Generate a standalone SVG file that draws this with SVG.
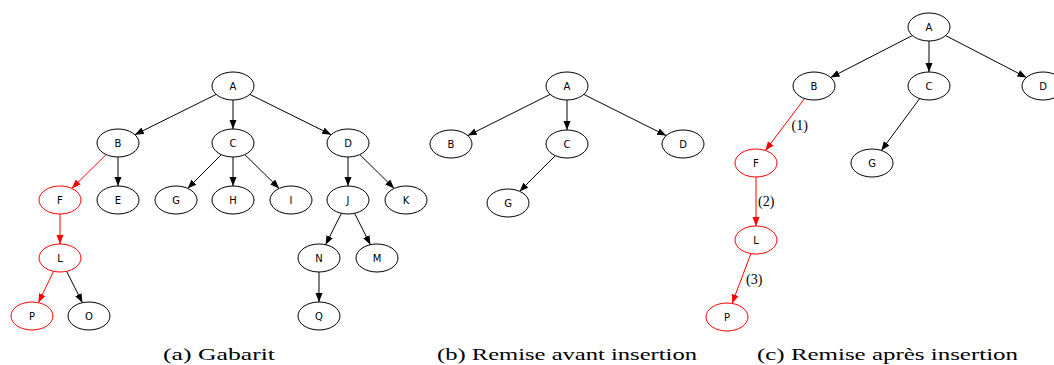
<svg xmlns="http://www.w3.org/2000/svg" width="1054" height="365" viewBox="0 0 1054 365">
  <style>
    .n ellipse { fill: #ffffff; stroke: #000000; stroke-width: 1; }
    .n.hl ellipse { stroke: #ff0000; }
    .n text { font-family: "DejaVu Sans", sans-serif; font-size: 10px; text-anchor: middle; fill: #000000; }
    .e { stroke: #000000; stroke-width: 1; fill: none; marker-end: url(#ah); }
    .e.hl { stroke: #ff0000; marker-end: url(#ahr); }
    .lbl { font-family: "Liberation Serif", serif; font-size: 14px; fill: #000000; }
    .cap { font-family: "Liberation Serif", serif; font-size: 17px; fill: #000000; }
  </style>
  <defs>
    <marker id="ah" markerUnits="userSpaceOnUse" markerWidth="10" markerHeight="8" refX="9" refY="3.5" orient="auto">
      <path d="M0,0 L9,3.5 L0,7 z" fill="#000000"/>
    </marker>
    <marker id="ahr" markerUnits="userSpaceOnUse" markerWidth="10" markerHeight="8" refX="9" refY="3.5" orient="auto">
      <path d="M0,0 L9,3.5 L0,7 z" fill="#ff0000"/>
    </marker>
  </defs>
  <rect width="1054" height="365" fill="#ffffff"/>

  <!-- (a) template tree: connectors -->
  <g id="edges-a">
    <line class="e" x1="216.2" y1="94.4" x2="134.9" y2="134.7"/>
    <line class="e" x1="233" y1="100" x2="233" y2="129"/>
    <line class="e" x1="249.8" y1="94.4" x2="331.2" y2="134.7"/>
    <line class="e hl" x1="106.2" y1="154.6" x2="71.8" y2="188.4"/>
    <line class="e" x1="118" y1="157" x2="118" y2="186"/>
    <line class="e" x1="221.4" y1="154.6" x2="187.6" y2="188.4"/>
    <line class="e" x1="233" y1="157" x2="233" y2="186"/>
    <line class="e" x1="244.8" y1="154.6" x2="279.2" y2="188.4"/>
    <line class="e" x1="348" y1="157" x2="348" y2="186"/>
    <line class="e" x1="359.8" y1="154.6" x2="394.2" y2="188.4"/>
    <line class="e hl" x1="60" y1="214" x2="60" y2="244"/>
    <line class="e" x1="341.4" y1="213.3" x2="325.6" y2="244.7"/>
    <line class="e" x1="354.6" y1="213.3" x2="370.4" y2="244.7"/>
    <line class="e hl" x1="53.6" y1="271.3" x2="38.4" y2="302.7"/>
    <line class="e" x1="66.6" y1="271.3" x2="82.4" y2="302.7"/>
    <line class="e" x1="319" y1="272" x2="319" y2="302"/>
  </g>
  <!-- (a) template tree: nodes -->
  <g id="a-A" class="n"><ellipse cx="233" cy="86" rx="21" ry="14"/><text x="233" y="89.5">A</text></g>
  <g id="a-B" class="n"><ellipse cx="118" cy="143" rx="21" ry="14"/><text x="118" y="146.5">B</text></g>
  <g id="a-C" class="n"><ellipse cx="233" cy="143" rx="21" ry="14"/><text x="233" y="146.5">C</text></g>
  <g id="a-D" class="n"><ellipse cx="348" cy="143" rx="21" ry="14"/><text x="348" y="146.5">D</text></g>
  <g id="a-F" class="n hl"><ellipse cx="60" cy="200" rx="21" ry="14"/><text x="60" y="203.5">F</text></g>
  <g id="a-E" class="n"><ellipse cx="118" cy="200" rx="21" ry="14"/><text x="118" y="203.5">E</text></g>
  <g id="a-G" class="n"><ellipse cx="176" cy="200" rx="21" ry="14"/><text x="176" y="203.5">G</text></g>
  <g id="a-H" class="n"><ellipse cx="233" cy="200" rx="21" ry="14"/><text x="233" y="203.5">H</text></g>
  <g id="a-I" class="n"><ellipse cx="291" cy="200" rx="21" ry="14"/><text x="291" y="203.5">I</text></g>
  <g id="a-J" class="n"><ellipse cx="348" cy="200" rx="21" ry="14"/><text x="348" y="203.5">J</text></g>
  <g id="a-K" class="n"><ellipse cx="406" cy="200" rx="21" ry="14"/><text x="406" y="203.5">K</text></g>
  <g id="a-L" class="n hl"><ellipse cx="60" cy="258" rx="21" ry="14"/><text x="60" y="261.5">L</text></g>
  <g id="a-N" class="n"><ellipse cx="319" cy="258" rx="21" ry="14"/><text x="319" y="261.5">N</text></g>
  <g id="a-M" class="n"><ellipse cx="377" cy="258" rx="21" ry="14"/><text x="377" y="261.5">M</text></g>
  <g id="a-P" class="n hl"><ellipse cx="32" cy="316" rx="21" ry="14"/><text x="32" y="319.5">P</text></g>
  <g id="a-O" class="n"><ellipse cx="89" cy="316" rx="21" ry="14"/><text x="89" y="319.5">O</text></g>
  <g id="a-Q" class="n"><ellipse cx="319" cy="316" rx="21" ry="14"/><text x="319" y="319.5">Q</text></g>

  <!-- (b) before insertion: connectors -->
  <g id="edges-b">
    <line class="e" x1="550.2" y1="94.4" x2="467.8" y2="135.6"/>
    <line class="e" x1="567" y1="100" x2="567" y2="130"/>
    <line class="e" x1="583.8" y1="94.4" x2="666.2" y2="135.6"/>
    <line class="e" x1="555.4" y1="155.6" x2="519.6" y2="191.4"/>
  </g>
  <!-- (b) nodes -->
  <g id="b-A" class="n"><ellipse cx="567" cy="86" rx="21" ry="14"/><text x="567" y="89.5">A</text></g>
  <g id="b-B" class="n"><ellipse cx="451" cy="144" rx="21" ry="14"/><text x="451" y="147.5">B</text></g>
  <g id="b-C" class="n"><ellipse cx="567" cy="144" rx="21" ry="14"/><text x="567" y="147.5">C</text></g>
  <g id="b-D" class="n"><ellipse cx="683" cy="144" rx="21" ry="14"/><text x="683" y="147.5">D</text></g>
  <g id="b-G" class="n"><ellipse cx="508" cy="203" rx="21" ry="14"/><text x="508" y="206.5">G</text></g>

  <!-- (c) after insertion: connectors -->
  <g id="edges-c">
    <line class="e" x1="912.4" y1="35.5" x2="830.6" y2="77.5"/>
    <line class="e" x1="929" y1="41" x2="929" y2="72"/>
    <line class="e" x1="945.5" y1="35.5" x2="1026.5" y2="77.5"/>
    <line class="e hl" x1="804.6" y1="98.5" x2="765.4" y2="150.5"/>
    <line class="e" x1="919.7" y1="98.5" x2="881.3" y2="150.5"/>
    <line class="e hl" x1="756" y1="177" x2="756" y2="226"/>
    <line class="e hl" x1="750.9" y1="253.6" x2="732.1" y2="303.4"/>
    <text class="lbl" x="791.5" y="130">(1)</text>
    <text class="lbl" x="758" y="206">(2)</text>
    <text class="lbl" x="746" y="284">(3)</text>
  </g>
  <!-- (c) nodes -->
  <g id="c-A" class="n"><ellipse cx="929" cy="27" rx="21" ry="14"/><text x="929" y="30.5">A</text></g>
  <g id="c-B" class="n"><ellipse cx="814" cy="86" rx="21" ry="14"/><text x="814" y="89.5">B</text></g>
  <g id="c-C" class="n"><ellipse cx="929" cy="86" rx="21" ry="14"/><text x="929" y="89.5">C</text></g>
  <g id="c-D" class="n"><ellipse cx="1043" cy="86" rx="21" ry="14"/><text x="1043" y="89.5">D</text></g>
  <g id="c-F" class="n hl"><ellipse cx="756" cy="163" rx="21" ry="14"/><text x="756" y="166.5">F</text></g>
  <g id="c-G" class="n"><ellipse cx="872" cy="163" rx="21" ry="14"/><text x="872" y="166.5">G</text></g>
  <g id="c-L" class="n hl"><ellipse cx="756" cy="240" rx="21" ry="14"/><text x="756" y="243.5">L</text></g>
  <g id="c-P" class="n hl"><ellipse cx="727" cy="317" rx="21" ry="14"/><text x="727" y="320.5">P</text></g>

  <!-- sub-figure captions -->
  <g id="captions">
    <text class="cap" x="163" y="360" textLength="112" lengthAdjust="spacingAndGlyphs">(a) Gabarit</text>
    <text class="cap" x="437" y="360" textLength="260" lengthAdjust="spacingAndGlyphs">(b) Remise avant insertion</text>
    <text class="cap" x="757" y="360" textLength="261" lengthAdjust="spacingAndGlyphs">(c) Remise après insertion</text>
  </g>
</svg>
